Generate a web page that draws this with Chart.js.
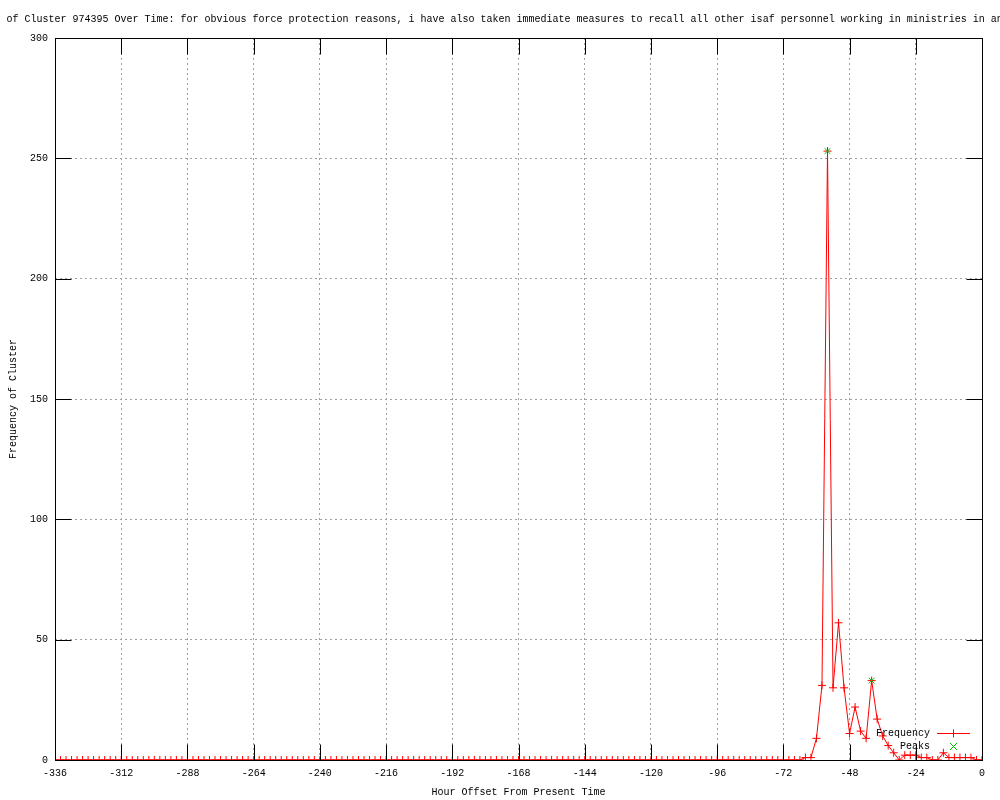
<!DOCTYPE html>
<html>
<head>
<meta charset="utf-8">
<script src="https://cdn.jsdelivr.net/npm/chart.js@4/dist/chart.umd.min.js"></script>
<style>
html,body{margin:0;padding:0;background:#fff;}
#wrap{width:1000px;height:800px;}
</style>
</head>
<body>
<div id="wrap"><canvas id="c" width="1000" height="800"></canvas></div>
<script>
// ---- data ----
const hourOffsets = [
-336,-334,-332,-330,-328,-326,-324,-322,-320,-318,-316,-314,-312,-310,-308,-306,-304,-302,-300,-298,
-296,-294,-292,-290,-288,-286,-284,-282,-280,-278,-276,-274,-272,-270,-268,-266,-264,-262,-260,-258,
-256,-254,-252,-250,-248,-246,-244,-242,-240,-238,-236,-234,-232,-230,-228,-226,-224,-222,-220,-218,
-216,-214,-212,-210,-208,-206,-204,-202,-200,-198,-196,-194,-192,-190,-188,-186,-184,-182,-180,-178,
-176,-174,-172,-170,-168,-166,-164,-162,-160,-158,-156,-154,-152,-150,-148,-146,-144,-142,-140,-138,
-136,-134,-132,-130,-128,-126,-124,-122,-120,-118,-116,-114,-112,-110,-108,-106,-104,-102,-100,-98,
-96,-94,-92,-90,-88,-86,-84,-82,-80,-78,-76,-74,-72,-70,-68,-66,-64,-62,-60,-58,
-56,-54,-52,-50,-48,-46,-44,-42,-40,-38,-36,-34,-32,-30,-28,-26,-24,-22,-20,-18,
-16,-14,-12,-10,-8,-6,-4,-2,0
];
const frequency = [
0,0,0,0,0,0,0,0,0,0,0,0,0,0,0,0,0,0,0,0,
0,0,0,0,0,0,0,0,0,0,0,0,0,0,0,0,0,0,0,0,
0,0,0,0,0,0,0,0,0,0,0,0,0,0,0,0,0,0,0,0,
0,0,0,0,0,0,0,0,0,0,0,0,0,0,0,0,0,0,0,0,
0,0,0,0,0,0,0,0,0,0,0,0,0,0,0,0,0,0,0,0,
0,0,0,0,0,0,0,0,0,0,0,0,0,0,0,0,0,0,0,0,
0,0,0,0,0,0,0,0,0,0,0,0,0,0,0,0,1,1,9,31,
253,30,57,30,11,22,12,9,33,17,10,6,3,0,2,2,2,1,1,0,
0,3,1,1,1,1,1,0,0
];
const peakHours = [-56, -40];
const peakValues = [253, 33];
const xTicks = [-336,-312,-288,-264,-240,-216,-192,-168,-144,-120,-96,-72,-48,-24,0];
const yTicks = [0,50,100,150,200,250,300];

const titlePrefix = "Distributio";
const titleText = "Distribution of Cluster 974395 Over Time: for obvious force protection reasons, i have also taken immediate measures to recall all other isaf personnel working in ministries in and around kabul.";
const xTitle = "Hour Offset From Present Time";
const yTitle = "Frequency of Cluster";
const legendLabels = ["Frequency", "Peaks"];

const MONO = '"Liberation Mono", "DejaVu Sans Mono", monospace';
const RED = '#ff0000';
const GREEN = '#00c000';

const freqPoints = hourOffsets.map((h, i) => ({x: h, y: frequency[i]}));
const peakPoints = peakHours.map((h, i) => ({x: h, y: peakValues[i]}));

const decor = {
  id: 'decor',
  beforeDraw(chart) {
    const ctx = chart.ctx;
    ctx.save();
    ctx.fillStyle = '#ffffff';
    ctx.fillRect(0, 0, chart.width, chart.height);
    ctx.restore();
  },
  afterDatasetsDraw(chart) {
    const ctx = chart.ctx;
    const a = chart.chartArea;
    const xs = chart.scales.x, ys = chart.scales.y;
    const L = Math.round(a.left) + 0.5, R = Math.round(a.right) + 0.5;
    const T = Math.round(a.top) + 0.5, B = Math.round(a.bottom) + 0.5;
    const tl = 16;
    ctx.save();
    ctx.setLineDash([]);
    ctx.strokeStyle = '#000000';
    ctx.lineWidth = 1;
    ctx.beginPath();
    xTicks.forEach(v => {
      const p = Math.round(xs.getPixelForValue(v)) + 0.5;
      ctx.moveTo(p, B); ctx.lineTo(p, B - tl);
      ctx.moveTo(p, T); ctx.lineTo(p, T + tl);
    });
    yTicks.forEach(v => {
      const p = Math.round(ys.getPixelForValue(v)) + 0.5;
      ctx.moveTo(L, p); ctx.lineTo(L + tl, p);
      ctx.moveTo(R, p); ctx.lineTo(R - tl, p);
    });
    ctx.stroke();
    ctx.strokeRect(L, T, R - L, B - T);
    ctx.restore();
  },
  afterDraw(chart) {
    const ctx = chart.ctx;
    const a = chart.chartArea;
    ctx.save();
    ctx.setLineDash([]);
    ctx.fillStyle = '#000000';
    // title (overflows canvas on both sides)
    ctx.font = '10px ' + MONO;
    ctx.textBaseline = 'middle';
    ctx.textAlign = 'left';
    const pre = ctx.measureText(titlePrefix).width;
    ctx.fillText(titleText, -5.5 - pre, 19);
    // x title
    ctx.textAlign = 'center';
    ctx.fillText(xTitle, (a.left + a.right) / 2, 792);
    // y title
    ctx.save();
    ctx.translate(13, (a.top + a.bottom) / 2);
    ctx.rotate(-Math.PI / 2);
    ctx.textAlign = 'center';
    ctx.fillText(yTitle, 0, 0);
    ctx.restore();
    // legend
    ctx.textAlign = 'right';
    const ly1 = 733.5, ly2 = 746.5;
    ctx.fillText(legendLabels[0], 930, ly1);
    ctx.fillText(legendLabels[1], 930, ly2);
    ctx.lineWidth = 1;
    ctx.strokeStyle = RED;
    ctx.beginPath();
    ctx.moveTo(937, ly1); ctx.lineTo(970, ly1);
    ctx.moveTo(953.5, ly1 - 4); ctx.lineTo(953.5, ly1 + 4);
    ctx.stroke();
    ctx.strokeStyle = GREEN;
    ctx.beginPath();
    ctx.moveTo(950, ly2 - 3.5); ctx.lineTo(957, ly2 + 3.5);
    ctx.moveTo(957, ly2 - 3.5); ctx.lineTo(950, ly2 + 3.5);
    ctx.stroke();
    ctx.restore();
  }
};

new Chart(document.getElementById('c'), {
  type: 'scatter',
  data: {
    datasets: [
      {
        label: legendLabels[0],
        data: freqPoints,
        showLine: true,
        borderColor: RED,
        backgroundColor: RED,
        pointBorderColor: RED,
        borderWidth: 1,
        pointStyle: 'cross',
        pointRadius: 4,
        pointBorderWidth: 1,
        pointHoverRadius: 4,
        tension: 0,
        order: 2
      },
      {
        label: legendLabels[1],
        data: peakPoints,
        showLine: false,
        borderColor: GREEN,
        backgroundColor: GREEN,
        pointStyle: 'crossRot',
        pointRadius: 4,
        pointBorderWidth: 1,
        order: 1
      }
    ]
  },
  options: {
    responsive: false,
    devicePixelRatio: 1,
    animation: false,
    events: [],
    layout: { padding: { top: 38, right: 18, left: 0, bottom: 0 } },
    plugins: { legend: { display: false }, title: { display: false }, tooltip: { enabled: false } },
    scales: {
      x: {
        type: 'linear',
        min: -336, max: 0,
        afterBuildTicks(s) { s.ticks = xTicks.map(v => ({value: v})); },
        afterFit(s) { s.height = 40; },
        ticks: { color: '#000', font: { family: MONO, size: 10 }, padding: 7, maxRotation: 0, autoSkip: false },
        grid: { color: '#a0a0a0', lineWidth: 1, drawTicks: false },
        border: { display: false, dash: [2, 3] }
      },
      y: {
        type: 'linear',
        min: 0, max: 300,
        afterBuildTicks(s) { s.ticks = yTicks.map(v => ({value: v})); },
        afterFit(s) { s.width = 55; },
        ticks: { color: '#000', font: { family: MONO, size: 10 }, padding: 7 },
        grid: { color: '#a0a0a0', lineWidth: 1, drawTicks: false },
        border: { display: false, dash: [2, 3] }
      }
    }
  },
  plugins: [decor]
});
</script>
</body>
</html>
